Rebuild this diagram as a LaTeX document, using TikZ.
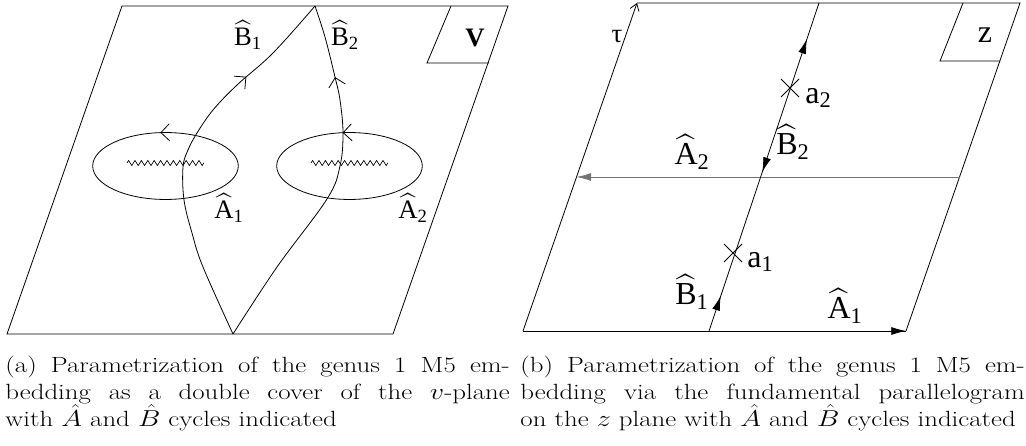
\documentclass[tikz,border=0pt]{standalone}
\usepackage{fontspec}
\usepackage{amsmath}
\newfontfamily\figfont{Liberation Serif}
\usetikzlibrary{arrows.meta,decorations.markings,decorations.pathmorphing}

\begin{document}
\begin{tikzpicture}[
  x=0.75pt, y=-0.75pt,
  line width=0.6pt,
  lbl/.style={font=\figfont\fontsize{20}{24}\selectfont, inner sep=0pt},
  biglbl/.style={font=\figfont\fontsize{24}{28}\selectfont, inner sep=0pt},
  cut/.style={decorate, line width=0.5pt,
    decoration={zigzag, segment length=4.8pt, amplitude=1.9pt}},
  barb/.style={postaction={decorate}, decoration={markings,
    mark=at position #1 with {\arrow{Straight Barb[length=6.4pt,width=12.7pt]}}}},
  tipline/.style={-{Latex[length=11pt,width=6pt]}},
  capt/.style={anchor=north west, inner sep=0pt, text width=310pt, transform shape,
    align=justify, font=\fontsize{16.5}{19.7}\selectfont}
]
\useasboundingbox (0,0) rectangle (1026,446);

% (a) the v-plane
\coordinate (vbl) at (7,334);
\coordinate (vbr) at (393,334);
\coordinate (vtr) at (508,6);
\coordinate (vtl) at (122,6);
\draw (vbl) -- (vbr) -- (vtr) -- (vtl) -- cycle;
\draw (451,6) -- (427,63) -- (489,63);
\node[lbl, font=\figfont\bfseries\fontsize{20}{24}\selectfont] (vname) at (475,38) {V};

\coordinate (cusp) at (233,334);
\coordinate (apex) at (315,6);
\draw[barb=0.265] (165.5,166) ellipse [x radius=54.6pt, y radius=25.1pt];
\draw[barb=0.27] (349.5,166) ellipse [x radius=54.6pt, y radius=25.1pt];
\draw[cut] (127,163) -- (204,163);
\draw[cut] (311,163) -- (388,163);

\draw[barb=0.745] plot[smooth, tension=0.6] coordinates {(cusp) (203,267) (192,233) (184,200)
  (183,167) (188,150) (197,133) (213,110) (237,85) (273,53) (apex)};
\draw[barb=0.797] plot[smooth, tension=0.6] coordinates {(cusp) (277,267) (327,199) (340,166)
  (343,133) (340,100) (335,77) (325,37) (apex)};

\node[lbl] (b1a) at (248,35) {$\widehat{\text{B}}_{\text{1}}$};
\node[lbl] (b2a) at (345,35) {$\widehat{\text{B}}_{\text{2}}$};
\node[lbl] (a1a) at (229,208) {$\widehat{\text{A}}_{\text{1}}$};
\node[lbl] (a2a) at (413,208) {$\widehat{\text{A}}_{\text{2}}$};

% (b) the z-plane
\coordinate (zbl) at (523,331);
\coordinate (zbr) at (906,331);
\coordinate (ztr) at (1020,3);
\coordinate (ztl) at (637,3);
\draw (zbr) -- (ztr) -- (ztl);
\draw[-{Straight Barb[length=5pt,width=7pt]}] (zbl) -- (ztl);
\draw (zbl) -- (zbr);
\draw (963,3) -- (940,61) -- (1000,61);
\node[biglbl] (zname) at (985,35) {z};
\node[lbl] (tau) at (617,37) {τ};

\coordinate (bfoot) at (709,331);
\coordinate (btop) at (819,3);
\coordinate (aright) at (959.5,177);
\coordinate (aleft) at (576.5,177);
\draw[tipline] (bfoot -| 760,331) -- (zbr);
\draw[black!55, -{Latex[length=11pt,width=6pt]}] (aright) -- (aleft);
\draw[postaction={decorate}, decoration={markings,
  mark=at position 0.107 with {\arrow{Latex[length=11pt,width=6pt]}},
  mark=at position 0.485 with {\arrowreversed{Latex[length=11pt,width=6pt]}},
  mark=at position 0.89 with {\arrow{Latex[length=11pt,width=6pt]}}}]
  (bfoot) -- (btop);

\draw (724,244) -- (742,262) (724,262) -- (742,244);
\draw (781,79) -- (799,97) (781,97) -- (799,79);
\node[biglbl, anchor=base west] (a1z) at (747,267) {a$_{\text{1}}$};
\node[biglbl, anchor=base west] (a2z) at (805,103) {a$_{\text{2}}$};

\node[biglbl] (a2z-l) at (692,152) {$\widehat{\text{A}}_{\text{2}}$};
\node[biglbl] (b2z-l) at (793,142) {$\widehat{\text{B}}_{\text{2}}$};
\node[biglbl] (b1z-l) at (692,292) {$\widehat{\text{B}}_{\text{1}}$};
\node[biglbl] (a1z-l) at (845,306) {$\widehat{\text{A}}_{\text{1}}$};

% captions, set a little wide like the scanned original
\begin{scope}[shift={(5,356)}, xscale=1.22]
  \node[capt] (capa) at (0,0) {(a) Parametrization of the genus 1 M5 em-\linebreak
    bedding as a double cover of the $v$-plane\linebreak with $\hat A$ and $\hat B$ cycles indicated};
\end{scope}
\begin{scope}[shift={(520,356)}, xscale=1.22]
  \node[capt] (capb) at (0,0) {(b) Parametrization of the genus 1 M5 em-\linebreak
    bedding via the fundamental parallelogram\linebreak on the $z$ plane with $\hat A$ and $\hat B$ cycles indicated};
\end{scope}
\end{tikzpicture}
\end{document}
